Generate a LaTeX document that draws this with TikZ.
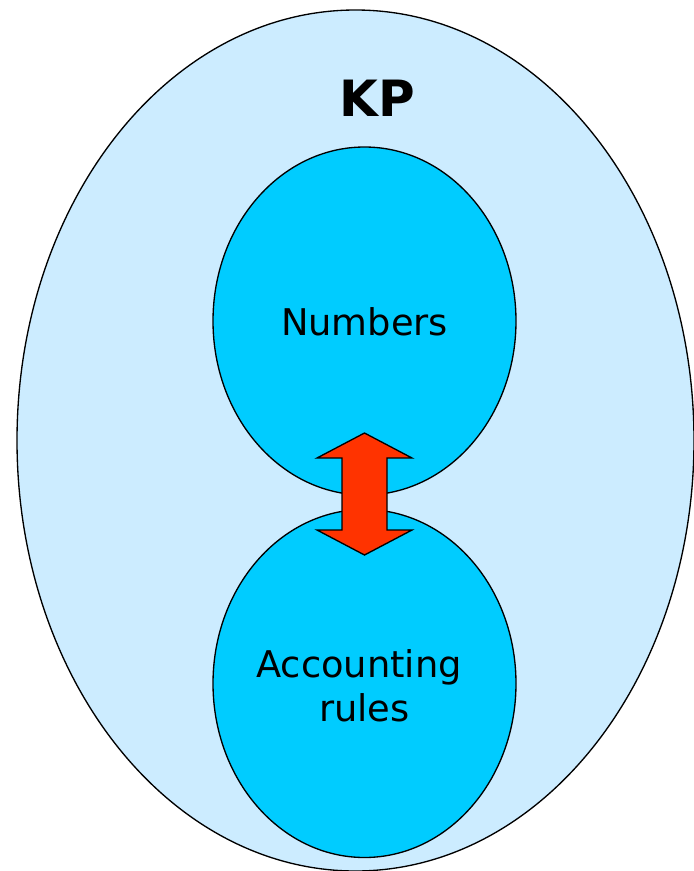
\documentclass[tikz,border=0pt]{standalone}
\usepackage{fontspec}
\setmainfont{DejaVu Sans}
\usepackage{tikz}
\usetikzlibrary{positioning,calc}
\definecolor{kpblue}{HTML}{CCECFF}
\definecolor{setblue}{HTML}{00CCFF}
\definecolor{arrred}{HTML}{FF3300}

\begin{document}
\begin{tikzpicture}[x=0.75pt, y=-0.75pt, line width=1pt,
  label/.style={font=\fontsize{27.6}{33}\selectfont, align=center, inner sep=0pt},
  set/.style={draw=black, fill=setblue}]
  \useasboundingbox (0,0) rectangle (693,871);
  % outer knowledge pool
  \filldraw[draw=black, fill=kpblue] (355.5,440.5) ellipse [x radius=338.5, y radius=430.5];
  \node[font=\bfseries\fontsize{37.5}{40}\selectfont, inner sep=0pt] (kp) at (377,98) {KP};
  % the two inner sets
  \filldraw[set] (364.5,321) ellipse [x radius=151.5, y radius=174];
  \filldraw[set] (364.5,683.5) ellipse [x radius=151.5, y radius=174];
  \node[label] (num) at (364.5,322) {Numbers};
  \node[label] (acc) at (364.5,686) {Accounting\hspace*{0.3em}\\rules};
  % two-way arrow between them
  \coordinate (top) at (364.5,433);
  \coordinate (bot) at (364.5,555);
  \filldraw[draw=black, fill=arrred, line join=miter]
    (top) -- (412,458) -- (387,458) -- (387,530) -- (412,530) -- (bot)
    -- (317,530) -- (342,530) -- (342,458) -- (317,458) -- cycle;
\end{tikzpicture}
\end{document}
